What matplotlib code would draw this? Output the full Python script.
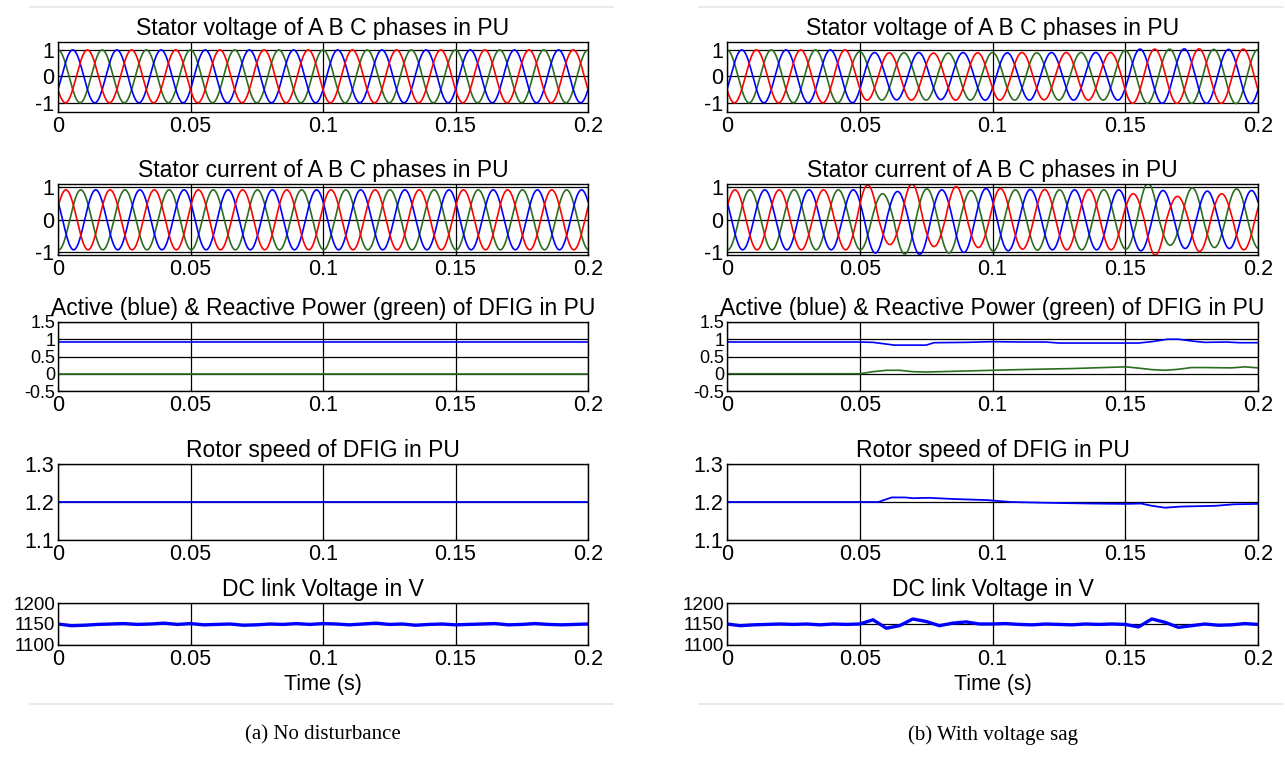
import numpy as np
import matplotlib
matplotlib.use("Agg")
from matplotlib import pyplot as plt
from matplotlib.lines import Line2D

plt.rcParams['font.family'] = ['Liberation Sans', 'DejaVu Sans']
plt.rcParams['axes.unicode_minus'] = False

# DATA ---------------------------------------------------------------
FREQ = 60.0  # Hz
x_ticks = [0, 0.05, 0.1, 0.15, 0.2]
x_tick_labels = ["0", "0.05", "0.1", "0.15", "0.2"]

# first extremum time and its sign for each phase
v_first_peak = {"red": (0.0111, 1), "green": (0.0, 1), "blue": (0.00556, 1)}
i_first_peak = {"red": (0.003, 1), "green": (0.0086, 1), "blue": (0.0059, -1)}

# peak magnitude of every half cycle (index 0 = extremum just before t=0)
v_peaks_a = {"red": [1.0] * 26, "green": [1.0] * 26, "blue": [1.0] * 26}
i_peaks_a = {"red": [0.92] * 26, "green": [0.92] * 26, "blue": [0.92] * 26}

v_peaks_b = {
    "red":   [1.0, 1.0, 1.0, 1.0, 1.0, 1.0, 0.9, 0.89, 0.9, 0.88, 0.9, 0.89, 0.9, 0.9,
              0.89, 0.9, 0.9, 0.9, 1.02, 1.03, 1.02, 1.04, 1.02, 1.03, 1.02, 1.02],
    "green": [1.0, 1.0, 1.0, 1.0, 1.0, 1.0, 1.0, 0.93, 0.9, 0.89, 0.9, 0.88, 0.9, 0.9,
              0.9, 0.89, 0.9, 0.9, 0.9, 0.98, 1.02, 1.03, 1.02, 1.02, 1.03, 1.02],
    "blue":  [1.0, 1.0, 1.0, 1.0, 1.0, 1.0, 1.0, 0.9, 0.89, 0.9, 0.88, 0.9, 0.9, 0.89,
              0.9, 0.9, 0.9, 0.9, 0.9, 1.03, 1.02, 1.04, 1.02, 1.02, 1.03, 1.02],
}
i_peaks_b = {
    "red":   [0.92, 0.92, 0.92, 0.92, 0.92, 0.92, 0.92, 1.07, 0.76, 1.1, 0.82, 1.02, 0.85,
              0.96, 0.9, 0.93, 0.92, 0.93, 0.92, 0.8, 1.08, 0.72, 0.97, 0.8, 0.92, 0.85],
    "green": [0.92, 0.92, 0.92, 0.92, 0.92, 0.92, 0.92, 0.8, 1.05, 0.95, 1.02, 0.9, 0.96,
              0.92, 0.93, 0.92, 0.92, 0.92, 0.9, 1.12, 0.78, 0.98, 0.85, 0.95, 0.88, 0.9],
    "blue":  [0.92, 0.92, 0.92, 0.92, 0.92, 0.92, 0.92, 1.02, 0.87, 1.06, 0.92, 1.0, 0.96,
              0.95, 0.93, 0.92, 0.92, 0.92, 0.92, 0.95, 0.9, 0.88, 0.88, 0.88, 0.9, 0.9],
}

# active / reactive power (PU)
p_t_a = [0, 0.2]
p_active_a = [0.92, 0.92]
p_reactive_a = [0.0, 0.0]
p_t_b = [0, 0.05, 0.055, 0.06, 0.063, 0.075, 0.078, 0.09, 0.1, 0.11, 0.12, 0.125, 0.15,
         0.155, 0.16, 0.166, 0.17, 0.176, 0.18, 0.188, 0.193, 0.2]
p_active_b = [0.92, 0.92, 0.91, 0.86, 0.83, 0.83, 0.9, 0.91, 0.93, 0.92, 0.92, 0.89, 0.89,
              0.89, 0.93, 1.0, 1.0, 0.94, 0.91, 0.92, 0.9, 0.9]
q_t_b = [0, 0.05, 0.055, 0.06, 0.065, 0.07, 0.075, 0.08, 0.09, 0.1, 0.11, 0.13, 0.15,
         0.153, 0.16, 0.165, 0.17, 0.175, 0.18, 0.19, 0.195, 0.2]
p_reactive_b = [0.0, 0.0, 0.06, 0.1, 0.1, 0.06, 0.05, 0.06, 0.08, 0.1, 0.12, 0.15, 0.2,
                0.18, 0.12, 0.1, 0.13, 0.18, 0.18, 0.17, 0.2, 0.17]

# rotor speed (PU)
w_t_a = [0, 0.2]
w_a = [1.2, 1.2]
w_t_b = [0, 0.057, 0.062, 0.067, 0.07, 0.076, 0.085, 0.098, 0.107, 0.12, 0.137, 0.15,
         0.156, 0.16, 0.165, 0.171, 0.184, 0.191, 0.2]
w_b = [1.2, 1.2, 1.212, 1.212, 1.21, 1.211, 1.208, 1.205, 1.2, 1.198, 1.196, 1.195,
       1.196, 1.19, 1.185, 1.188, 1.19, 1.194, 1.195]

# DC link voltage (V), one reading every 5 ms
dc_a = [1150, 1146, 1147, 1149, 1150, 1151, 1149, 1150, 1152, 1149, 1151, 1148, 1149,
        1150, 1147, 1148, 1150, 1149, 1151, 1149, 1151, 1150, 1148, 1150, 1152, 1149,
        1150, 1147, 1149, 1150, 1148, 1149, 1150, 1151, 1148, 1149, 1151, 1149, 1148,
        1149, 1150]
dc_b = [1150, 1146, 1148, 1149, 1150, 1149, 1150, 1148, 1150, 1149, 1150, 1160, 1140,
        1146, 1162, 1156, 1146, 1152, 1155, 1150, 1150, 1151, 1149, 1148, 1150, 1149,
        1148, 1150, 1149, 1150, 1149, 1143, 1162, 1154, 1142, 1146, 1150, 1147, 1148,
        1151, 1149]

titles = ["Stator voltage of A B C phases in PU",
          "Stator current of A B C phases in PU",
          "Active (blue) & Reactive Power (green) of DFIG in PU",
          "Rotor speed of DFIG in PU",
          "DC link Voltage in V"]
captions = ["(a) No disturbance", "(b) With voltage sag"]

COLORS = {"red": "#ff0000", "green": "#2b6e1f", "blue": "#0000ff"}


def phase_wave(t, first, sign, peaks):
    """cosine whose peak magnitude is taken per half cycle"""
    half = 0.5 / FREQ
    n = np.round((t - first) / half).astype(int)
    amp = np.asarray(peaks)[n + 1]
    return sign * amp * np.cos(2 * np.pi * FREQ * (t - first))


# LAYOUT -------------------------------------------------------------
W, H = 1285, 758
fig = plt.figure(figsize=(W / 100, H / 100), dpi=100)
col_x = [(58, 588), (727, 1258)]
row_y = [(42, 112), (184, 255), (322, 391), (464, 540), (603, 645)]

t = np.linspace(0, 0.2, 4001)
t_dc = np.linspace(0, 0.2, 41)

for c in range(2):
    v_peaks = v_peaks_a if c == 0 else v_peaks_b
    i_peaks = i_peaks_a if c == 0 else i_peaks_b
    axes = []
    for r in range(5):
        x0, x1 = col_x[c]
        y0, y1 = row_y[r]
        ax = fig.add_axes([x0 / W, 1 - y1 / H, (x1 - x0) / W, (y1 - y0) / H])
        axes.append(ax)
        ax.set_xlim(0, 0.2)
        ax.set_xticks(x_ticks)
        ax.set_xticklabels(x_tick_labels)
        ax.set_title(titles[r], fontsize=16.5, pad=5)
        ax.grid(True, color="black", linewidth=0.9)
        ax.set_axisbelow(True)
        ax.tick_params(labelsize=15.5, direction="in", length=3, pad=3)
        for s in ax.spines.values():
            s.set_linewidth(1.0)

    ax = axes[0]
    for ph in ["green", "blue", "red"]:
        first, sign = v_first_peak[ph]
        ax.plot(t, phase_wave(t, first, sign, v_peaks[ph]), color=COLORS[ph], lw=1.2)
    ax.set_ylim(-1.35, 1.3)
    ax.set_yticks([-1, 0, 1])

    ax = axes[1]
    for ph in ["green", "blue", "red"]:
        first, sign = i_first_peak[ph]
        ax.plot(t, phase_wave(t, first, sign, i_peaks[ph]), color=COLORS[ph], lw=1.2)
    ax.set_ylim(-1.08, 1.1)
    ax.set_yticks([-1, 0, 1])

    ax = axes[2]
    if c == 0:
        ax.plot(p_t_a, p_active_a, color=COLORS["blue"], lw=1.2)
        ax.plot(p_t_a, p_reactive_a, color=COLORS["green"], lw=1.2)
    else:
        ax.plot(p_t_b, p_active_b, color=COLORS["blue"], lw=1.2)
        ax.plot(q_t_b, p_reactive_b, color=COLORS["green"], lw=1.2)
    ax.set_ylim(-0.5, 1.5)
    ax.set_yticks([-0.5, 0, 0.5, 1, 1.5])
    ax.set_yticklabels(["-0.5", "0", "0.5", "1", "1.5"])
    ax.tick_params(axis="y", labelsize=13, pad=2)

    ax = axes[3]
    if c == 0:
        ax.plot(w_t_a, w_a, color=COLORS["blue"], lw=1.3)
    else:
        ax.plot(w_t_b, w_b, color=COLORS["blue"], lw=1.3)
    ax.set_ylim(1.1, 1.3)
    ax.set_yticks([1.1, 1.2, 1.3])
    ax.set_yticklabels(["1.1", "1.2", "1.3"])

    ax = axes[4]
    ax.plot(t_dc, dc_a if c == 0 else dc_b, color=COLORS["blue"], lw=2.4)
    ax.set_ylim(1100, 1200)
    ax.set_yticks([1100, 1150, 1200])
    ax.tick_params(axis="y", labelsize=13.5, pad=2)
    ax.set_xlabel("Time (s)", fontsize=15.5, labelpad=3)

    cx = (col_x[c][0] + col_x[c][1]) / 2 / W
    fig.text(cx, 1 - 735 / H, captions[c], ha="center", va="center",
             fontsize=15, family="Liberation Serif")

    # faint separator lines of the page
    for yy in (7, 704):
        fig.add_artist(Line2D([(col_x[c][0] - 28) / W, (col_x[c][1] + 25) / W],
                              [1 - yy / H, 1 - yy / H], color="#e6e6e6", lw=1.2))

fig.savefig("out.png", dpi=100)
